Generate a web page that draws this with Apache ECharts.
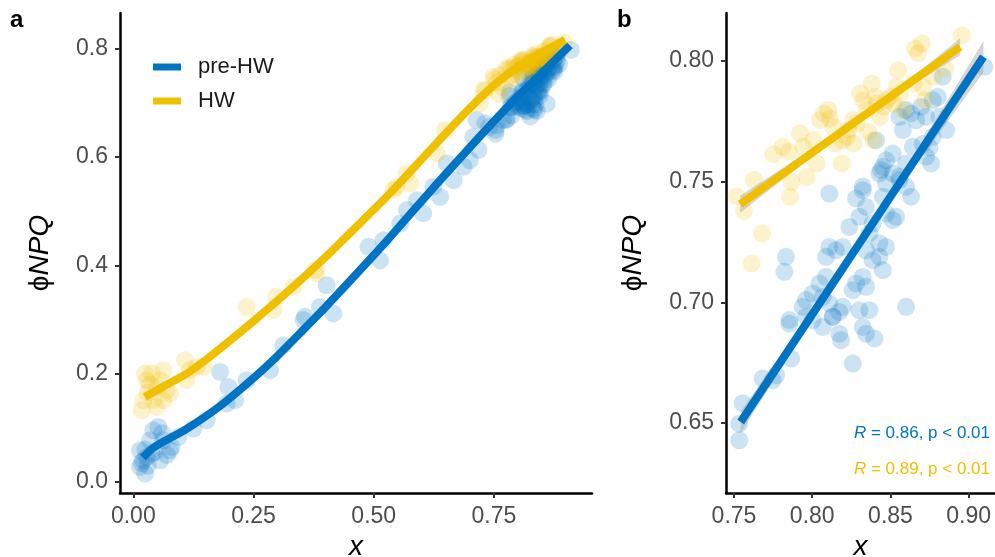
<!DOCTYPE html>
<html><head><meta charset="utf-8">
<script src="https://cdn.jsdelivr.net/npm/echarts@6/dist/echarts.min.js"></script>
<style>html,body{margin:0;padding:0;background:#fff}#c{width:995px;height:557px}</style>
</head><body><div id="c"></div>
<script>
const BLUE = '#0073C2', YEL = '#EFC000';
const FONT = '"Liberation Sans", Arial, sans-serif';

// pre-HW points with low x (panel a only)
const preLow = [[0.0139,0.0585],[0.0139,0.0277],[0.0243,0.0155],[0.0279,0.0462],[0.0347,0.077],[0.0416,0.0955],[0.052,0.1016],[0.0555,0.040],[0.0624,0.077],[0.0763,0.0585],[0.0798,0.0646],[0.0936,0.0831],[0.1248,0.0986],[0.1526,0.114],[0.1804,0.2031],[0.1976,0.1754],[0.2116,0.1509],[0.1943,0.1448],[0.2359,0.1878],[0.2844,0.2063],[0.312,0.2524],[0.0208,0.040],[0.0382,0.0524],[0.017,0.035],[0.025,0.06],[0.03,0.03],[0.045,0.055],[0.06,0.09],[0.07,0.05],
[0.357,0.305],[0.388,0.323],[0.402,0.363],[0.416,0.311],[0.354,0.299],[0.489,0.434],[0.513,0.409],[0.520,0.446],[0.569,0.502],[0.555,0.477],[0.590,0.520],[0.603,0.496],[0.624,0.545],[0.638,0.526],[0.652,0.588],[0.666,0.557],[0.687,0.582],[0.700,0.594],[0.707,0.637],[0.718,0.613],[0.714,0.668],[0.732,0.662],[0.74,0.655]];

// pre-HW points with x >= 0.75 (both panels)
const preHigh = [[0.8408,0.7671],[0.8440,0.7547],[0.8472,0.7588],[0.8515,0.7616],[0.8557,0.7768],[0.8600,0.7796],[0.8632,0.7782],[0.8664,0.7754],[0.8696,0.7809],[0.8728,0.7768],[0.8770,0.7837],[0.8802,0.7851],[0.8834,0.7934],[0.8856,0.7713],[0.8472,0.7492],[0.8557,0.7520],[0.8600,0.7575],[0.8642,0.7644],[0.8728,0.7603],[0.8760,0.7575],[0.9100,0.7975],[0.8579,0.7713],[0.8813,0.7768],[0.8770,0.7685],[0.8323,0.7479],
[0.8109,0.7450],[0.8280,0.7430],[0.8323,0.7464],[0.8344,0.7395],[0.8429,0.7533],[0.8451,0.7561],[0.8515,0.7533],[0.8557,0.7506],[0.8600,0.7478],[0.8632,0.7437],[0.8451,0.7437],[0.8472,0.7368],[0.8515,0.7340],[0.8536,0.7354],[0.8386,0.7326],[0.8301,0.7354],[0.8237,0.7312],[0.8365,0.7285],[0.8429,0.7244],[0.8472,0.7229],[0.8344,0.7215],[0.8195,0.7229],[0.8152,0.7215],[0.8109,0.7229],[0.8088,0.7188],[0.8386,0.7174],[0.8451,0.7133],[0.8429,0.7188],[0.8323,0.7105],[0.8280,0.7078],[0.8259,0.7050],[0.8344,0.7064],[0.8088,0.7105],[0.8046,0.7078],[0.8003,0.7036],[0.7960,0.7009],[0.7939,0.6981],[0.8067,0.7022],[0.8109,0.6995],[0.8195,0.6981],[0.8301,0.6967],[0.8365,0.6967],[0.7832,0.7188],[0.7822,0.7126],[0.8600,0.6981],[0.7854,0.6926],[0.7960,0.6940],[0.8131,0.6940],[0.8749,0.7641],[0.8706,0.7655],
[0.7534,0.6428],[0.7534,0.6497],[0.7556,0.6582],[0.7683,0.6684],[0.7747,0.6677],[0.7769,0.6698],[0.7865,0.6767],[0.7854,0.6911],[0.8067,0.6898],[0.8131,0.6939],[0.8173,0.6960],[0.8173,0.6870],[0.8184,0.6843],[0.8323,0.6898],[0.8344,0.6870],[0.8397,0.6850],[0.8259,0.6746],[0.8003,0.6926]];

// HW points with low x (panel a only)
const hwLow = [[0.0174,0.1324],[0.0208,0.1509],[0.0279,0.1878],[0.0243,0.2002],[0.0382,0.2002],[0.0416,0.1509],[0.0487,0.1754],[0.0555,0.1878],[0.0624,0.2063],[0.0624,0.1509],[0.0695,0.1693],[0.0763,0.1632],[0.1076,0.2247],[0.118,0.2063],[0.1319,0.2124],[0.1456,0.2124],[0.111,0.1878],[0.0487,0.1385],[0.03,0.165],[0.035,0.18],
[0.236,0.323],[0.298,0.342],[0.291,0.317],[0.333,0.360],[0.381,0.385],[0.378,0.391],[0.541,0.539],[0.569,0.570],[0.576,0.551],[0.548,0.545],[0.631,0.606],[0.648,0.649],[0.732,0.723],[0.721,0.699],[0.749,0.748],[0.728,0.723]];

// HW points with x >= 0.75 (both panels)
const hwHigh = [[0.7517,0.7439],[0.7628,0.7506],[0.7564,0.7378],[0.7679,0.7285],[0.7613,0.7160],[0.7751,0.7613],[0.7811,0.7644],[0.7850,0.7623],[0.7858,0.7436],[0.7868,0.7499],[0.7922,0.7699],[0.7943,0.7644],[0.7965,0.7519],[0.8007,0.7671],[0.8029,0.7575],[0.8050,0.7754],[0.8075,0.7782],[0.8103,0.7796],[0.8114,0.7761],[0.8135,0.7726],[0.8146,0.7658],[0.8189,0.7575],[0.8195,0.7671],[0.8221,0.7685],[0.8231,0.7713],[0.8263,0.7754],[0.8285,0.7741],[0.8306,0.7865],[0.8327,0.7837],[0.8348,0.7796],[0.8359,0.7706],[0.8380,0.7906],[0.8402,0.7851],[0.8412,0.7823],[0.8434,0.7768],[0.8455,0.7809],[0.8476,0.7837],[0.8497,0.7851],[0.8519,0.7823],[0.8540,0.7892],[0.8561,0.7865],[0.8582,0.7796],[0.8550,0.7961],[0.8647,0.7906],[0.8657,0.8051],[0.8678,0.8031],[0.8700,0.8072],[0.8710,0.7892],[0.8721,0.7837],[0.8774,0.7934],[0.8849,0.7968],[0.8956,0.8106],[0.8391,0.7671],[0.8263,0.7658]];

// smoothed curves (panel a)
const preSmooth = [[0.02,0.045],[0.04,0.062],[0.07,0.078],[0.111,0.098],[0.18,0.14],[0.25,0.192],[0.30,0.233],[0.347,0.275],[0.40,0.323],[0.486,0.405],[0.534,0.452],[0.624,0.543],[0.721,0.638],[0.79,0.703],[0.85,0.755],[0.908,0.806]];
const hwSmooth = [[0.024,0.157],[0.06,0.175],[0.111,0.200],[0.15,0.225],[0.201,0.261],[0.25,0.297],[0.30,0.335],[0.347,0.372],[0.409,0.423],[0.45,0.459],[0.534,0.533],[0.624,0.619],[0.70,0.69],[0.763,0.742],[0.82,0.777],[0.898,0.816]];

// linear fits and confidence bands (panel b): [x, y] and [x, lower, upper]
const preFit = [[0.7543,0.6504],[0.9094,0.8017]];
const hwFit = [[0.754,0.7406],[0.8945,0.8058]];
const preBand = [[0.7543,0.6459,0.6549],[0.79,0.6827,0.6877],[0.83,0.7224,0.7260],[0.87,0.7602,0.7662],[0.9094,0.7952,0.8082]];
const hwBand = [[0.754,0.7371,0.7441],[0.79,0.7553,0.7593],[0.83,0.7744,0.7774],[0.87,0.7924,0.7964],[0.8945,0.8023,0.8093]];

const xTicksA = [0, 0.25, 0.5, 0.75];
const yTicksA = [0, 0.2, 0.4, 0.6, 0.8];
const xTicksB = [0.75, 0.8, 0.85, 0.9];
const yTicksB = [0.65, 0.7, 0.75, 0.8];

function axis(ticks, dec, extra) {
  return Object.assign({
    type: 'value', splitLine: {show: false},
    axisLine: {show: true, onZero: false, lineStyle: {color: '#000', width: 2.5}},
    axisTick: {show: true, length: 5, customValues: ticks, lineStyle: {color: '#333', width: 2}},
    axisLabel: {customValues: ticks, formatter: v => v.toFixed(dec), color: '#4d4d4d', fontSize: 23, fontFamily: FONT, margin: 12}
  }, extra);
}
const titleRich = {
  p: {fontSize: 28, fontFamily: FONT, color: '#000'},
  i: {fontSize: 28, fontFamily: FONT, fontStyle: 'italic', color: '#000'}
};
function yName(gap) { return {name: '{p|ϕ}{i|NPQ}', nameLocation: 'middle', nameRotate: 90, nameGap: gap, nameTextStyle: {rich: titleRich}}; }
function xName(gap) { return {name: '{i|x}', nameLocation: 'middle', nameGap: gap, nameTextStyle: {rich: titleRich}}; }

function bandSeries(band, idx) {
  return {
    type: 'custom', xAxisIndex: idx, yAxisIndex: idx, data: band, silent: true, z: 2,
    renderItem: (params, api) => {
      if (params.dataIndex !== 0) return null;
      const pts = [];
      band.forEach(d => pts.push(api.coord([d[0], d[2]])));
      for (let i = band.length - 1; i >= 0; i--) pts.push(api.coord([band[i][0], band[i][1]]));
      return {type: 'polygon', shape: {points: pts}, style: {fill: '#999999', opacity: 0.4}};
    }
  };
}
function scatter(name, data, color, idx) {
  return {type: 'scatter', name: name, xAxisIndex: idx, yAxisIndex: idx, data: data, symbolSize: 18,
    itemStyle: {color: color, opacity: 0.2}, z: 1, silent: true};
}
function line(name, data, color, idx, smooth) {
  return {type: 'line', name: name, xAxisIndex: idx, yAxisIndex: idx, data: data, showSymbol: false, smooth: smooth,
    lineStyle: {color: color, width: 8, cap: 'butt'}, itemStyle: {color: color}, z: 3, silent: true};
}

const chart = echarts.init(document.getElementById('c'));
chart.setOption({
  animation: false,
  backgroundColor: '#fff',
  grid: [
    {left: 120, top: 13, width: 472, height: 480, outerBoundsMode: 'none', containLabel: false},
    {left: 726, top: 13, width: 269, height: 480, outerBoundsMode: 'none', containLabel: false}
  ],
  xAxis: [
    axis(xTicksA, 2, Object.assign({gridIndex: 0, min: -0.0277, max: 0.954}, xName(28))),
    axis(xTicksB, 2, Object.assign({gridIndex: 1, min: 0.7449, max: 0.9168}, xName(28)))
  ],
  yAxis: [
    axis(yTicksA, 1, Object.assign({gridIndex: 0, min: -0.0203, max: 0.8656}, yName(66))),
    axis(yTicksB, 2, Object.assign({gridIndex: 1, min: 0.621, max: 0.8198}, yName(79)))
  ],
  legend: {
    left: 148, top: 51, orient: 'vertical', itemGap: 12, itemWidth: 28, itemHeight: 7, selectedMode: false,
    data: [
      {name: 'pre-HW', icon: 'rect', itemStyle: {color: BLUE, opacity: 1}},
      {name: 'HW', icon: 'rect', itemStyle: {color: YEL, opacity: 1}}
    ],
    textStyle: {fontSize: 22, color: '#1a1a1a', fontFamily: FONT, padding: [0, 0, 0, 12]}
  },
  graphic: [
    {type: 'text', left: 10, top: 8, style: {text: 'a', font: 'bold 24px ' + FONT, fill: '#000'}},
    {type: 'text', left: 617, top: 8, style: {text: 'b', font: 'bold 24px ' + FONT, fill: '#000'}},
    {type: 'text', right: 5, top: 425, style: {text: '{i|R} = 0.86, p < 0.01', font: '17px ' + FONT, fill: BLUE,
      rich: {i: {fontStyle: 'italic', fontSize: 17, fontFamily: FONT, fill: BLUE}}}},
    {type: 'text', right: 5, top: 461, style: {text: '{i|R} = 0.89, p < 0.01', font: '17px ' + FONT, fill: YEL,
      rich: {i: {fontStyle: 'italic', fontSize: 17, fontFamily: FONT, fill: YEL}}}}
  ],
  series: [
    line('pre-HW', preSmooth, BLUE, 0, 0.25),
    line('HW', hwSmooth, YEL, 0, 0.25),
    scatter('pre-HW', preLow.concat(preHigh), BLUE, 0),
    scatter('HW', hwLow.concat(hwHigh), YEL, 0),
    scatter('pre-HW', preHigh, BLUE, 1),
    scatter('HW', hwHigh, YEL, 1),
    bandSeries(preBand, 1),
    bandSeries(hwBand, 1),
    line('pre-HW', preFit, BLUE, 1, false),
    line('HW', hwFit, YEL, 1, false)
  ]
});
</script></body></html>
